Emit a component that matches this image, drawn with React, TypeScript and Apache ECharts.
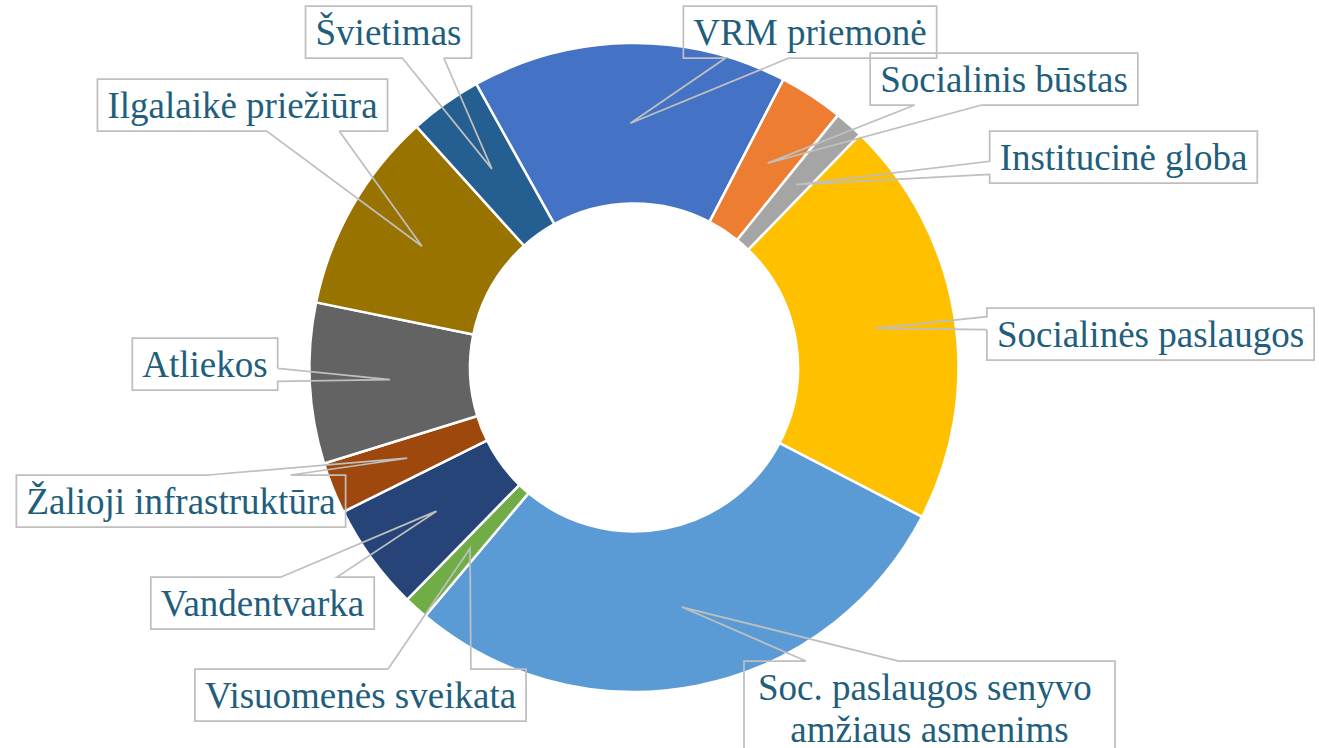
import React, { useEffect, useRef } from 'react';
import * as echarts from 'echarts';

const categories = [
  'VRM priemonė',
  'Socialinis būstas',
  'Institucinė globa',
  'Socialinės paslaugos',
  'Soc. paslaugos senyvo amžiaus asmenims',
  'Visuomenės sveikata',
  'Vandentvarka',
  'Žalioji infrastruktūra',
  'Atliekos',
  'Ilgalaikė priežiūra',
  'Švietimas',
];

const values = [15.7, 3.2, 1.45, 20.35, 28.5, 1.2, 5.35, 2.55, 8.0, 10.1, 3.6];

const colors = [
  '#4472C4', '#ED7D31', '#A5A5A5', '#FFC000', '#5B9BD5', '#70AD47',
  '#264478', '#9E480E', '#636363', '#997300', '#255E91',
];

// label box anchors: [center x, top y] in pixels (layout config)
const labelBoxes: number[][] = [
  [810, 6],
  [1004, 53],
  [1123.5, 131],
  [1150.5, 308],
  [929.5, 661],
  [360.5, 669],
  [262.5, 577],
  [181, 475],
  [205, 338],
  [242.5, 79],
  [388.5, 6],
];

const CX = 634;
const CY = 367.5;
const R_IN = 164;
const R_OUT = 324.5;
const R_MID = (R_IN + R_OUT) / 2;
const START_ANGLE = 119.1;

function calloutPoints(L: number, T: number, W: number, H: number, tx: number, ty: number) {
  const hc = L + W / 2, vc = T + H / 2;
  const xPos = tx - hc, yPos = ty - vc;
  const dq = (xPos * H) / W;
  const R = L + W, B = T + H;
  const TL = [L, T], TR = [R, T], BR = [R, B], BL = [L, B];
  const tip = [tx, ty];
  if (Math.abs(dq) > Math.abs(yPos)) {
    const y1 = yPos < 0 ? T + (H * 2) / 12 : T + (H * 7) / 12;
    const y2 = yPos < 0 ? T + (H * 5) / 12 : T + (H * 10) / 12;
    if (xPos < 0) {
      return [[L, y2], tip, [L, y1], TL, TR, BR, BL, [L, y2]];
    }
    return [[R, y1], tip, [R, y2], BR, BL, TL, TR, [R, y1]];
  } else {
    const x1 = xPos < 0 ? L + (W * 2) / 12 : L + (W * 7) / 12;
    const x2 = xPos < 0 ? L + (W * 5) / 12 : L + (W * 10) / 12;
    if (yPos < 0) {
      return [[x1, T], tip, [x2, T], TR, BR, BL, TL, [x1, T]];
    }
    return [[x2, B], tip, [x1, B], BL, TL, TR, BR, [x2, B]];
  }
}

function fallbackTip(i: number) {
  const total = values.reduce((a, b) => a + b, 0);
  let before = 0;
  for (let k = 0; k < i; k++) before += values[k];
  const mid = before + values[i] / 2;
  const ang = ((START_ANGLE - (mid / total) * 360) * Math.PI) / 180;
  return [CX + R_MID * Math.cos(ang), CY - R_MID * Math.sin(ang)];
}

export default function App() {
  const ref = useRef<HTMLDivElement>(null);
  useEffect(() => {
    if (!ref.current) return;
    const chart = echarts.init(ref.current, undefined, { renderer: 'svg' });
    const sliceData = categories.map((name, i) => ({
      name,
      value: values[i],
      itemStyle: { color: colors[i] },
    }));
    const labelData = categories.map((name, i) => {
      const item: any = { name, value: values[i] };
      if (i === 4) {
        item.label = { width: 351, overflow: 'break' };
      }
      return item;
    });
    chart.setOption({
      animation: false,
      backgroundColor: '#ffffff',
      series: [
        {
          type: 'pie',
          z: 2,
          center: [CX, CY],
          radius: [R_IN, R_OUT],
          startAngle: START_ANGLE,
          clockwise: true,
          emphasis: { disabled: true },
          itemStyle: { borderColor: '#ffffff', borderWidth: 2.5 },
          label: { show: false },
          labelLine: { show: false },
          data: sliceData,
        },
        {
          type: 'pie',
          z: 5,
          silent: true,
          center: [CX, CY],
          radius: [R_IN, R_OUT],
          startAngle: START_ANGLE,
          clockwise: true,
          avoidLabelOverlap: false,
          emphasis: { disabled: true },
          itemStyle: { color: 'rgba(0,0,0,0)', borderWidth: 0 },
          label: {
            show: true,
            position: 'outside',
            formatter: '{b}',
            fontFamily: "'Liberation Serif', 'Times New Roman', serif",
            fontSize: 37,
            lineHeight: 42,
            color: '#215E7C',
            padding: [5, 10],
            backgroundColor: 'rgba(255,255,255,0)',
            align: 'center',
          },
          labelLine: {
            show: true,
            length: 10,
            length2: 10,
            lineStyle: { color: '#BFBFBF', width: 1.75 },
          },
          labelLayout: (params: any) => {
            const i = params.dataIndex;
            const box = labelBoxes[i];
            const w = params.labelRect.width;
            const h = params.labelRect.height;
            const L = box[0] - w / 2;
            const T = box[1];
            let tip: number[];
            const p = params.labelLinePoints;
            if (p && p[0]) {
              const dx = p[0][0] - CX, dy = p[0][1] - CY;
              const d = Math.sqrt(dx * dx + dy * dy) || 1;
              tip = [CX + (dx * R_MID) / d, CY + (dy * R_MID) / d];
            } else {
              tip = fallbackTip(i);
            }
            return {
              x: box[0],
              y: box[1],
              align: 'center',
              verticalAlign: 'top',
              labelLinePoints: calloutPoints(L, T, w, h, tip[0], tip[1]),
            };
          },
          data: labelData,
        },
      ],
    });
    return () => chart.dispose();
  }, []);
  return (
    <div
      ref={ref}
      style={{ position: 'absolute', left: 0, top: 0, width: 1319, height: 748 }}
    />
  );
}
